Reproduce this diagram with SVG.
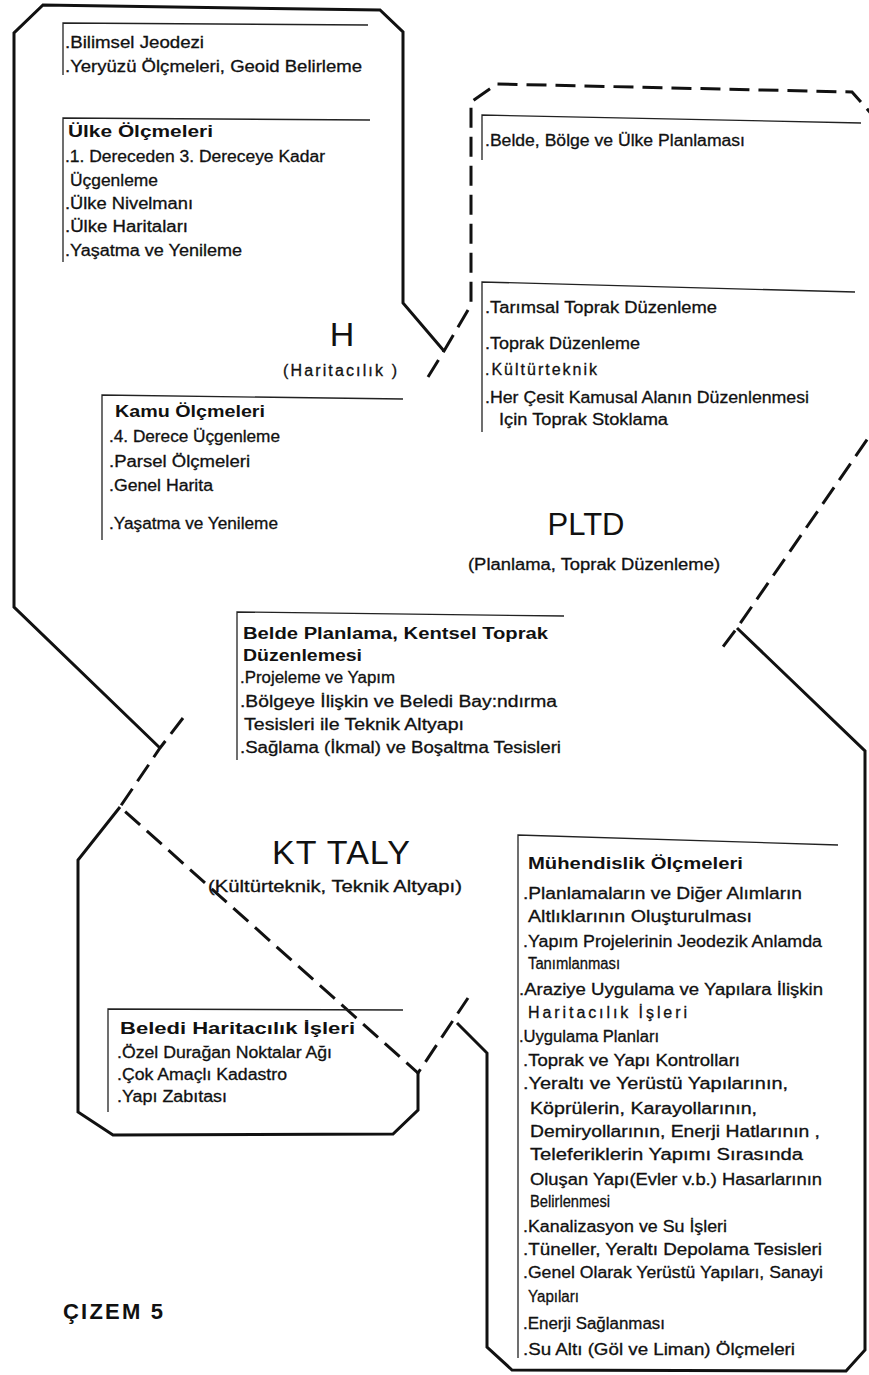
<svg xmlns="http://www.w3.org/2000/svg" width="869" height="1375" viewBox="0 0 869 1375">
<style>
text{font-family:"Liberation Sans",Arial,sans-serif;fill:#111}
.t{font-size:16px;stroke:#111;stroke-width:0.3}
.b{font-size:16px;font-weight:bold}
.lbl{font-size:16px;stroke:#111;stroke-width:0.3}
.big{font-size:34px}
.br{fill:none;stroke:#222;stroke-width:1.3}
.solid{fill:none;stroke:#111;stroke-width:3;stroke-linejoin:miter}
.dash{fill:none;stroke:#111;stroke-width:3;stroke-dasharray:20 9}
</style>
<rect width="869" height="1375" fill="#fff"/>
<g id="outlines">
<path class="solid" d="M444,351 L403,303 L403,32 L380,10 L43,5 L14,33 L14,607 L160,748"/>
<path class="solid" d="M120,807 L78,860 L78,1112 L113,1135 L393,1134 L418,1110 L418,1073"/>
<path class="solid" d="M457,1023 L487,1053 L487,1347 L512,1370 L846,1371 L865,1350 L865,751 L737,628"/>
</g>
<g id="connectors">
<path class="dash" d="M428,377 L444,351 L471,305 L471,102 L497,84 L852,92 L900,146"/>
<path class="dash" d="M900,392 L737,628 L722,648"/>
<path class="dash" d="M183,718 L160,748 L120,807 L418,1073 L468,998"/>
</g>
<g id="region-H">
<text class="big" x="342" y="346" text-anchor="middle">H</text>
<text class="lbl" x="283" y="376" textLength="114" lengthAdjust="spacing">(Haritacılık )</text>
</g>
<g id="region-PLTD">
<text class="big" x="586" y="535" text-anchor="middle" style="font-size:31px">PLTD</text>
<text class="lbl" x="468" y="570" textLength="252" lengthAdjust="spacingAndGlyphs">(Planlama, Toprak Düzenleme)</text>
</g>
<g id="region-KT">
<text class="big" x="272" y="864" textLength="138" lengthAdjust="spacing">KT TALY</text>
<text class="lbl" x="208" y="892" textLength="254" lengthAdjust="spacingAndGlyphs">(Kültürteknik, Teknik Altyapı)</text>
</g>
<g id="block-jeodezi">
<path class="br" d="M63,75 L63,23 L368,25"/>
<text class="t" x="65" y="48" textLength="139" lengthAdjust="spacingAndGlyphs">.Bilimsel Jeodezi</text>
<text class="t" x="65" y="72" textLength="297" lengthAdjust="spacingAndGlyphs">.Yeryüzü Ölçmeleri, Geoid Belirleme</text>
</g>
<g id="block-ulke">
<path class="br" d="M63,262 L63,118 L370,120"/>
<text class="b" x="68" y="137" textLength="145" lengthAdjust="spacingAndGlyphs">Ülke Ölçmeleri</text>
<text class="t" x="65" y="162" textLength="260" lengthAdjust="spacingAndGlyphs">.1. Dereceden 3. Dereceye Kadar</text>
<text class="t" x="70" y="186" textLength="88" lengthAdjust="spacingAndGlyphs">Üçgenleme</text>
<text class="t" x="65" y="209" textLength="128" lengthAdjust="spacingAndGlyphs">.Ülke Nivelmanı</text>
<text class="t" x="65" y="232" textLength="123" lengthAdjust="spacingAndGlyphs">.Ülke Haritaları</text>
<text class="t" x="65" y="256" textLength="177" lengthAdjust="spacingAndGlyphs">.Yaşatma ve  Yenileme</text>
</g>
<g id="block-planlama">
<path class="br" d="M482,160 L482,115 L861,123"/>
<text class="t" x="485" y="146" textLength="260" lengthAdjust="spacingAndGlyphs">.Belde, Bölge ve Ülke Planlaması</text>
</g>
<g id="block-toprak">
<path class="br" d="M482,432 L482,282 L855,292"/>
<text class="t" x="485" y="313" textLength="232" lengthAdjust="spacingAndGlyphs">.Tarımsal Toprak Düzenleme</text>
<text class="t" x="485" y="349" textLength="155" lengthAdjust="spacingAndGlyphs">.Toprak Düzenleme</text>
<text class="t" x="485" y="375" textLength="112" lengthAdjust="spacing">.Kültürteknik</text>
<text class="t" x="485" y="403" textLength="324" lengthAdjust="spacingAndGlyphs">.Her Çesit Kamusal Alanın Düzenlenmesi</text>
<text class="t" x="499" y="425" textLength="169" lengthAdjust="spacingAndGlyphs">Için Toprak Stoklama</text>
</g>
<g id="block-kamu">
<path class="br" d="M102,540 L102,395 L403,399"/>
<text class="b" x="115" y="417" textLength="150" lengthAdjust="spacingAndGlyphs">Kamu Ölçmeleri</text>
<text class="t" x="109" y="442" textLength="171" lengthAdjust="spacingAndGlyphs">.4. Derece Üçgenleme</text>
<text class="t" x="109" y="467" textLength="141" lengthAdjust="spacingAndGlyphs">.Parsel Ölçmeleri</text>
<text class="t" x="109" y="491" textLength="104" lengthAdjust="spacingAndGlyphs">.Genel Harita</text>
<text class="t" x="109" y="529" textLength="169" lengthAdjust="spacingAndGlyphs">.Yaşatma ve Yenileme</text>
</g>
<g id="block-belde">
<path class="br" d="M237,760 L237,612 L564,616"/>
<text class="b" x="243" y="639" textLength="305" lengthAdjust="spacingAndGlyphs">Belde Planlama, Kentsel Toprak</text>
<text class="b" x="243" y="661" textLength="119" lengthAdjust="spacingAndGlyphs">Düzenlemesi</text>
<text class="t" x="240" y="683" textLength="155" lengthAdjust="spacingAndGlyphs">.Projeleme ve Yapım</text>
<text class="t" x="240" y="707" textLength="317" lengthAdjust="spacingAndGlyphs">.Bölgeye İlişkin ve Beledi   Bay:ndırma</text>
<text class="t" x="244" y="730" textLength="220" lengthAdjust="spacingAndGlyphs">Tesisleri ile Teknik Altyapı</text>
<text class="t" x="240" y="753" textLength="321" lengthAdjust="spacingAndGlyphs">.Sağlama (İkmal) ve Boşaltma Tesisleri</text>
</g>
<g id="block-beledi">
<path class="br" d="M108,1112 L108,1009 L403,1010"/>
<text class="b" x="120" y="1034" textLength="235" lengthAdjust="spacingAndGlyphs">Beledi Haritacılık İşleri</text>
<text class="t" x="117" y="1058" textLength="215" lengthAdjust="spacingAndGlyphs">.Özel Durağan Noktalar Ağı</text>
<text class="t" x="117" y="1080" textLength="170" lengthAdjust="spacingAndGlyphs">.Çok Amaçlı Kadastro</text>
<text class="t" x="117" y="1102" textLength="110" lengthAdjust="spacingAndGlyphs">.Yapı Zabıtası</text>
</g>
<g id="block-muhendislik">
<path class="br" d="M518,1358 L518,835 L838,845"/>
<text class="b" x="528" y="869" textLength="215" lengthAdjust="spacingAndGlyphs">Mühendislik Ölçmeleri</text>
<text class="t" x="523" y="899" textLength="279" lengthAdjust="spacingAndGlyphs">.Planlamaların ve Diğer Alımların</text>
<text class="t" x="528" y="922" textLength="224" lengthAdjust="spacingAndGlyphs">Altlıklarının Oluşturulması</text>
<text class="t" x="523" y="947" textLength="299" lengthAdjust="spacingAndGlyphs">.Yapım Projelerinin Jeodezik Anlamda</text>
<text class="t" x="528" y="969" textLength="92" lengthAdjust="spacingAndGlyphs">Tanımlanması</text>
<text class="t" x="519" y="995" textLength="304" lengthAdjust="spacingAndGlyphs">.Araziye Uygulama ve Yapılara İlişkin</text>
<text class="t" x="528" y="1018" textLength="159" lengthAdjust="spacing">Haritacılık İşleri</text>
<text class="t" x="519" y="1042" textLength="140" lengthAdjust="spacingAndGlyphs">.Uygulama Planları</text>
<text class="t" x="523" y="1066" textLength="217" lengthAdjust="spacingAndGlyphs">.Toprak ve Yapı Kontrolları</text>
<text class="t" x="523" y="1089" textLength="265" lengthAdjust="spacingAndGlyphs">.Yeraltı ve Yerüstü Yapılarının,</text>
<text class="t" x="530" y="1114" textLength="227" lengthAdjust="spacingAndGlyphs">Köprülerin, Karayollarının,</text>
<text class="t" x="530" y="1137" textLength="290" lengthAdjust="spacingAndGlyphs">Demiryollarının, Enerji Hatlarının ,</text>
<text class="t" x="530" y="1160" textLength="273" lengthAdjust="spacingAndGlyphs">Teleferiklerin Yapımı Sırasında</text>
<text class="t" x="530" y="1185" textLength="292" lengthAdjust="spacingAndGlyphs">Oluşan Yapı(Evler v.b.) Hasarlarının</text>
<text class="t" x="530" y="1207" textLength="80" lengthAdjust="spacingAndGlyphs">Belirlenmesi</text>
<text class="t" x="523" y="1232" textLength="204" lengthAdjust="spacingAndGlyphs">.Kanalizasyon ve Su İşleri</text>
<text class="t" x="523" y="1255" textLength="299" lengthAdjust="spacingAndGlyphs">.Tüneller, Yeraltı Depolama Tesisleri</text>
<text class="t" x="523" y="1278" textLength="300" lengthAdjust="spacingAndGlyphs">.Genel Olarak Yerüstü Yapıları, Sanayi</text>
<text class="t" x="528" y="1302" textLength="51" lengthAdjust="spacingAndGlyphs">Yapıları</text>
<text class="t" x="523" y="1329" textLength="142" lengthAdjust="spacingAndGlyphs">.Enerji Sağlanması</text>
<text class="t" x="523" y="1355" textLength="272" lengthAdjust="spacingAndGlyphs">.Su Altı (Göl ve Liman) Ölçmeleri</text>
</g>
<g id="caption">
<text x="63" y="1319" style="font-size:22px;font-weight:bold" textLength="100" lengthAdjust="spacing">ÇIZEM 5</text>
</g>
</svg>
